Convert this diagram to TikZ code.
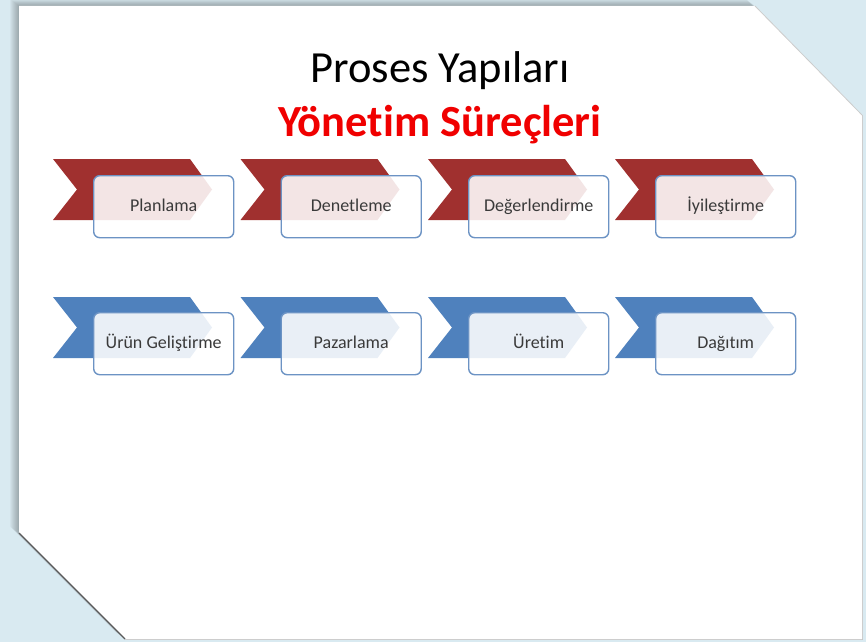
\documentclass[tikz,border=0pt]{standalone}
\usepackage{fontspec}
\setmainfont[Ligatures={NoCommon}]{Carlito}
\definecolor{bg}{HTML}{D9EAF1}
\definecolor{chred}{HTML}{A0302F}
\definecolor{chblue}{HTML}{4F81BD}
\definecolor{boxline}{HTML}{6C93C4}
\definecolor{txt}{HTML}{3A3A3A}
\definecolor{ttlred}{HTML}{F00000}
\begin{document}
\begin{tikzpicture}[x=1pt,y=-1pt,
  stepbox/.style={draw=boxline, line width=1.4pt, rounded corners=6pt, fill=white,
    fill opacity=0.88, text opacity=1, minimum width=140pt, minimum height=62pt,
    inner sep=0pt, text height=12pt, text depth=3pt,
    font=\fontsize{18}{21}\selectfont, text=txt, anchor=north west},
  ttl/.style={anchor=base, inner sep=0pt, font=\fontsize{44.5}{50}\selectfont}]
\useasboundingbox (0,0) rectangle (866,642);
\fill[bg] (0,0) rectangle (866,642);
% shadow
\foreach \i in {1,...,9}{
  \begin{scope}[shift={(-\i*1.0,-\i*0.75)}]
    \fill[black, opacity=0.03] (19,6) -- (755,6) -- (862,115) -- (862,639) -- (125,639) -- (19,533) -- cycle;
  \end{scope}}
\draw[gray!45, line width=2.5pt] (862,115) -- (862,639) -- (125,639);
% slide
\fill[white] (19,6) -- (755,6) -- (862,115) -- (862,639) -- (125,639) -- (19,533) -- cycle;
\draw[gray!40, line width=0.8pt] (755,6) -- (862,115);
\draw[black!65, line width=1.3pt] (19,533) -- (125,639);
% titles
\node[ttl, text=black] (t1) at (440,82) {Proses Yapıları};
\node[ttl, text=ttlred, font=\fontsize{44.5}{50}\selectfont\bfseries] (t2) at (440,136) {Yönetim Süreçleri};
% chevrons and boxes
\foreach \L/\lab [count=\k] in {53/Planlama, 240.5/Denetleme, 428/Değerlendirme, 615/İyileştirme}{
  \fill[chred] (\L,159) -- ++(137,0) -- ++(22,30.5) -- ++(-22,30.5) -- ++(-137,0) -- ++(24,-30.5) -- cycle;
  \node[stepbox] (r\k) at (\L+40,175) {\lab};
}
\foreach \L/\lab [count=\k] in {53/Ürün Geliştirme, 240.5/Pazarlama, 428/Üretim, 615/Dağıtım}{
  \fill[chblue] (\L,297) -- ++(137,0) -- ++(22,30.5) -- ++(-22,30.5) -- ++(-137,0) -- ++(24,-30.5) -- cycle;
  \node[stepbox] (b\k) at (\L+40,312) {\lab};
}
\end{tikzpicture}
\end{document}
